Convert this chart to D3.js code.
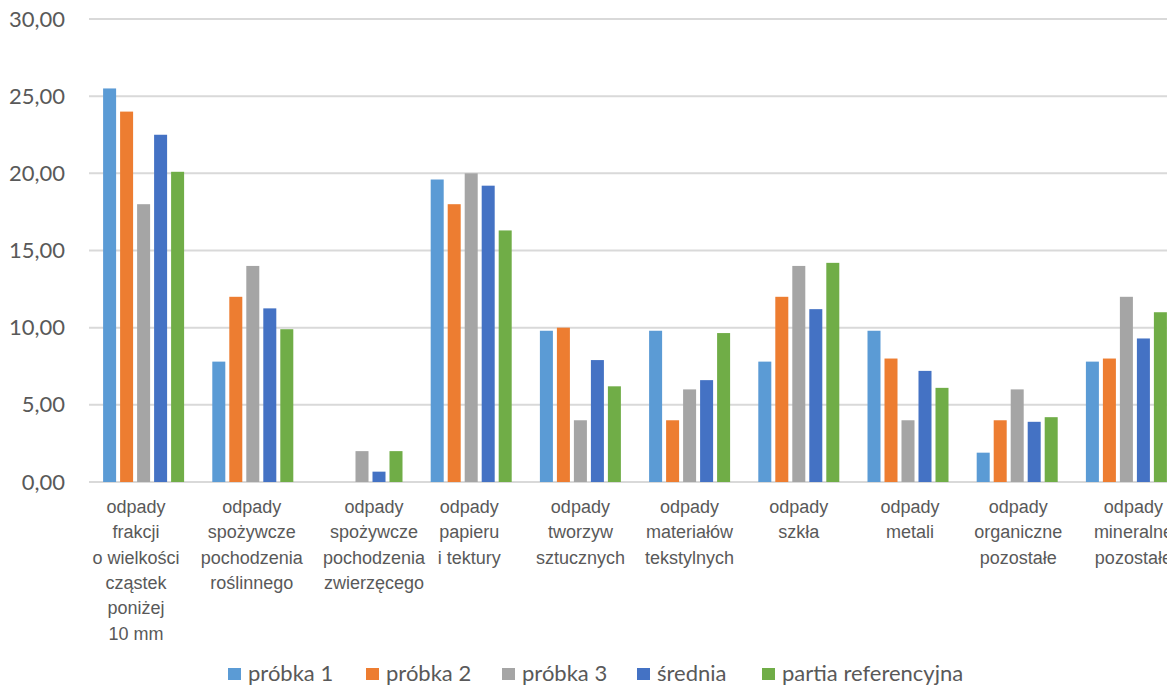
<!DOCTYPE html>
<html>
<head>
<meta charset="utf-8">
<script src="https://cdn.jsdelivr.net/npm/d3@7"></script>
<style>
  html, body { margin: 0; padding: 0; background: #fff; }
  svg { display: block; }
</style>
</head>
<body>
<svg id="chart" width="1167" height="685"></svg>
<script>
// Waste fractions (category labels, one array of lines per category)
const categories = [
  ["odpady", "frakcji", "o wielkości", "cząstek", "poniżej", "10 mm"],
  ["odpady", "spożywcze", "pochodzenia", "roślinnego"],
  ["odpady", "spożywcze", "pochodzenia", "zwierzęcego"],
  ["odpady", "papieru", "i tektury"],
  ["odpady", "tworzyw", "sztucznych"],
  ["odpady", "materiałów", "tekstylnych"],
  ["odpady", "szkła"],
  ["odpady", "metali"],
  ["odpady", "organiczne", "pozostałe"],
  ["odpady", "mineralne", "pozostałe"]
];

const seriesNames = ["próbka 1", "próbka 2", "próbka 3", "średnia", "partia referencyjna"];

// Share of each fraction [%]
const probka1 = [25.5, 7.8, 0, 19.6, 9.8, 9.8, 7.8, 9.8, 1.9, 7.8];
const probka2 = [24.0, 12.0, 0, 18.0, 10.0, 4.0, 12.0, 8.0, 4.0, 8.0];
const probka3 = [18.0, 14.0, 2.0, 20.0, 4.0, 6.0, 14.0, 4.0, 6.0, 12.0];
const srednia = [22.5, 11.25, 0.67, 19.2, 7.9, 6.6, 11.2, 7.2, 3.9, 9.3];
const partiaReferencyjna = [20.1, 9.9, 2.0, 16.3, 6.2, 9.65, 14.2, 6.1, 4.2, 11.0];

const yTicks = [0, 5, 10, 15, 20, 25, 30];

const seriesValues = [probka1, probka2, probka3, srednia, partiaReferencyjna];
const colors = ["#5B9BD5", "#ED7D31", "#A5A5A5", "#4472C4", "#70AD47"];

const svg = d3.select("#chart");

// Plot area (extends past the right edge of the page)
const plotLeft = 89, plotRight = 1181, plotTop = 19, plotBottom = 482;
const clusterWidth = 81;

const x = d3.scaleBand()
  .domain(d3.range(categories.length))
  .range([plotLeft, plotRight]);

const xInner = d3.scaleBand()
  .domain(d3.range(seriesNames.length))
  .range([0, clusterWidth])
  .paddingInner(0.235);

const y = d3.scaleLinear().domain([0, 30]).range([plotBottom, plotTop]);

const fmt = v => d3.format(".2f")(v).replace(".", ",");

// Gridlines
svg.append("g")
  .selectAll("line")
  .data(yTicks)
  .join("line")
  .attr("x1", plotLeft)
  .attr("x2", 1167)
  .attr("y1", d => y(d))
  .attr("y2", d => y(d))
  .attr("stroke", "#d9d9d9")
  .attr("stroke-width", 2);

// Y axis labels
const yAxis = d3.axisLeft(y).tickValues(yTicks).tickFormat(fmt).tickSize(0).tickPadding(0);
const yG = svg.append("g").attr("transform", "translate(65,0)").call(yAxis);
yG.select(".domain").remove();
yG.selectAll("text")
  .attr("fill", "#595959")
  .style("font-family", "Lato, 'Open Sans', sans-serif")
  .style("font-size", "22px");

// Bars
const groups = svg.append("g")
  .selectAll("g")
  .data(categories.map((c, i) => i))
  .join("g")
  .attr("transform", i => `translate(${x(i) + (x.bandwidth() - clusterWidth) / 2},0)`);

groups.selectAll("rect")
  .data(i => seriesValues.map((s, k) => ({ k, v: s[i] })))
  .join("rect")
  .filter(d => d.v > 0)
  .attr("x", d => xInner(d.k))
  .attr("width", xInner.bandwidth())
  .attr("y", d => y(d.v))
  .attr("height", d => y(0) - y(d.v))
  .attr("fill", d => colors[d.k]);

// Category labels; a few are nudged sideways to keep neighbours apart
const labelNudge = [-7.5, -1, 12, -2, 0, 0, 0, 2, 1, 7];
const xLabels = svg.append("g")
  .selectAll("text")
  .data(categories)
  .join("text")
  .attr("x", (d, i) => x(i) + x.bandwidth() / 2 + labelNudge[i])
  .attr("y", 513)
  .attr("text-anchor", "middle")
  .attr("fill", "#595959")
  .style("font-family", "'Liberation Sans', Arial, sans-serif")
  .style("font-size", "18px");

xLabels.selectAll("tspan")
  .data(d => d)
  .join("tspan")
  .attr("x", function () { return this.parentNode.getAttribute("x"); })
  .attr("dy", (d, j) => j === 0 ? 0 : 25.3)
  .text(d => d);

// Legend
const legendX = [228, 366, 502, 637, 762];
const legend = svg.append("g")
  .selectAll("g")
  .data(seriesNames)
  .join("g")
  .attr("transform", (d, i) => `translate(${legendX[i]},668)`);

legend.append("rect")
  .attr("width", 13)
  .attr("height", 12)
  .attr("fill", (d, i) => colors[i]);

legend.append("text")
  .attr("x", 20)
  .attr("y", 13)
  .attr("fill", "#595959")
  .style("font-family", "Lato, 'Open Sans', sans-serif")
  .style("font-size", "22px")
  .text(d => d);
</script>
</body>
</html>
